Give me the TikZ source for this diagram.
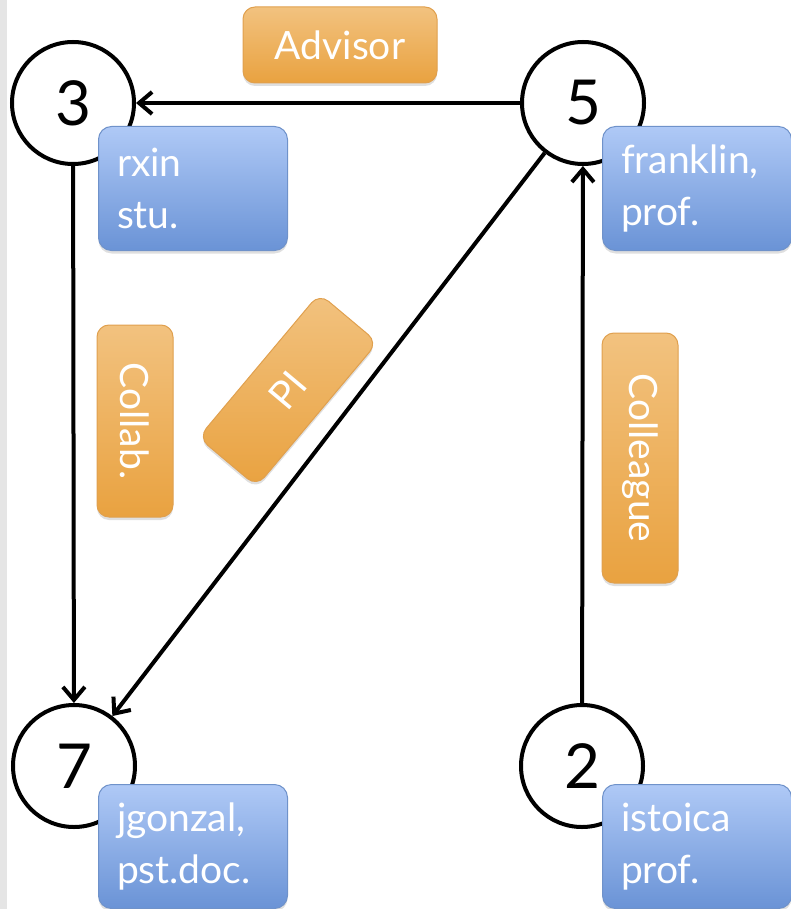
\documentclass[tikz,border=0pt]{standalone}
\usepackage{fontspec}
\setmainfont{Lato}
\usetikzlibrary{arrows.meta}
\usetikzlibrary{positioning,shadows}
\definecolor{BlueTop}{HTML}{AFC9F6}
\definecolor{BlueBot}{HTML}{6A93D6}
\definecolor{BlueEdge}{HTML}{6F92CA}
\definecolor{OrangeTop}{HTML}{F2C27F}
\definecolor{OrangeBot}{HTML}{E9A240}
\definecolor{OrangeEdge}{HTML}{E0A04E}
\tikzstyle{vertex}=[circle,draw=black,line width=4pt,fill=white,minimum size=122pt,inner sep=0pt,font=\fontsize{62}{62}\selectfont]
\tikzstyle{prop}=[rectangle,rounded corners=13pt,draw=BlueEdge,line width=1pt,top color=BlueTop,bottom color=BlueBot,text=white,minimum width=189pt,minimum height=124pt,text width=152pt,align=left,font=\fontsize{39}{52}\selectfont,drop shadow={opacity=0.25,shadow xshift=0pt,shadow yshift=-3pt}]
\tikzstyle{rel}=[rectangle,rounded corners=12pt,draw=OrangeEdge,line width=1pt,top color=OrangeTop,bottom color=OrangeBot,text=white,minimum height=76pt,font=\fontsize{39}{39}\selectfont,drop shadow={opacity=0.25,shadow xshift=0pt,shadow yshift=-3pt}]
\tikzset{link/.style={-{Straight Barb[length=13pt,width=22pt]},line width=4pt}}

\begin{document}
\begin{tikzpicture}[x=1pt,y=-1pt]
    \useasboundingbox (0,0) rectangle (791,909);
    \fill [black!10] (0,0) rectangle (7,909);

    \node [vertex] (V3) at (73,103) {3};
    \node [vertex] (V5) at (583,103) {5};
    \node [vertex] (V7) at (74,766) {7};
    \node [vertex] (V2) at (582,766) {2};

    \draw [link] (V5) -- (V3);
    \draw [link] (V3) -- (V7);
    \draw [link] (V5) -- (V7);
    \draw [link] (V2) -- (V5);

    \node [prop,anchor=north west] (P3) at (98,126) {rxin\\stu.};
    \node [prop,anchor=north west] (P5) at (602,126) {franklin,\\prof.};
    \node [prop,anchor=north west] (P7) at (98,784) {jgonzal,\\pst.doc.};
    \node [prop,anchor=north west] (P2) at (602,784) {istoica\\prof.};

    \node [rel,minimum width=194pt] (Advisor) at (340,45) {Advisor};
    \node [rel,minimum width=192pt,rotate=-90] (Collab) at (135,421) {Collab.};
    \node [rel,minimum width=250pt,rotate=-90] (Colleague) at (640,458) {Colleague};
    \node [rel,minimum width=188pt,rotate=50] (PI) at (288,390) {PI};
\end{tikzpicture}
\end{document}
